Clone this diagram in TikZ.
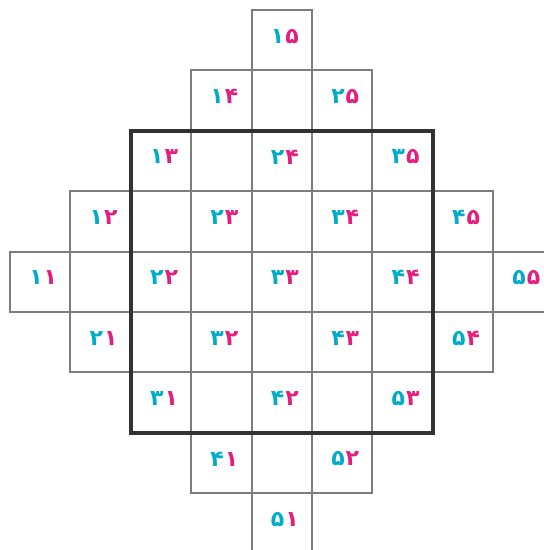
\documentclass[tikz,border=0pt]{standalone}
\usepackage{fontspec}
\newfontfamily\fa[Script=Arabic]{DejaVu Sans}
\definecolor{cy}{RGB}{0,172,200}
\definecolor{mg}{RGB}{228,30,125}
\definecolor{thin}{RGB}{125,125,125}
\definecolor{thick}{RGB}{50,50,50}
\newcommand\pdig[1]{\ifcase#1\or ۱\or ۲\or ۳\or ۴\or ۵\fi}
\begin{document}
\begin{tikzpicture}[x=1pt,y=-1pt,
  cell/.style={draw=thin,line width=2pt,minimum width=60.4pt,minimum height=60.4pt,inner sep=0pt,outer sep=0pt},
  num/.style={font=\fa\bfseries\fontsize{22}{22}\selectfont,inner sep=0pt,xshift=3pt,yshift=4pt},
  frame/.style={draw=thick,line width=3.8pt}]
\useasboundingbox (0,0) rectangle (544,550);
\foreach \r in {1,...,9}{
  \foreach \c in {1,...,9}{
    \pgfmathtruncatemacro\d{abs(\r-5)+abs(\c-5)}
    \ifnum\d<5
      \node[cell] (c\r\c) at ({10+(\c-0.5)*60.4},{10+(\r-0.5)*60.4}) {};
    \fi
  }}
\foreach \a in {1,...,5}{
  \foreach \b in {1,...,5}{
    \pgfmathtruncatemacro\r{5+\a-\b}
    \pgfmathtruncatemacro\c{\a+\b-1}
    \node[num] (n\a\b) at (c\r\c) {\textcolor{cy}{\pdig{\a}}\kern1pt\textcolor{mg}{\pdig{\b}}};
  }}
\draw[frame] (c33.north west) rectangle (c77.south east);
\end{tikzpicture}
\end{document}
